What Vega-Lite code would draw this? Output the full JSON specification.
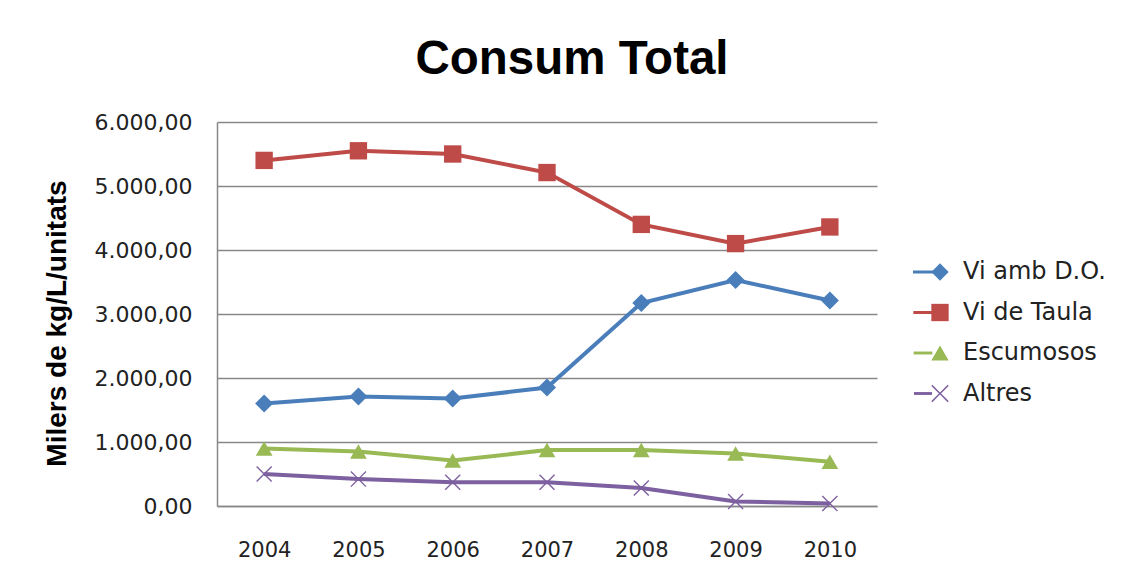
{
  "$schema": "https://vega.github.io/schema/vega-lite/v6.json",
  "width": 660,
  "height": 384,
  "autosize": {"type": "none"},
  "padding": {"left": 217, "top": 122, "right": 250, "bottom": 77},
  "background": "white",
  "config": {
    "locale": {"number": {"decimal": ",", "thousands": ".", "grouping": [3], "currency": ["", " €"]}},
    "view": {"stroke": null},
    "font": "Liberation Sans"
  },
  "title": {
    "text": "Consum Total",
    "font": "Liberation Sans",
    "fontSize": 47.5,
    "fontWeight": "bold",
    "color": "#000000",
    "anchor": "middle",
    "frame": "group",
    "baseline": "alphabetic",
    "offset": -10,
    "dx": 25
  },
  "data": {
    "values": [
      {"year": "2004", "series": "Vi amb D.O.", "value": 1600},
      {"year": "2005", "series": "Vi amb D.O.", "value": 1710},
      {"year": "2006", "series": "Vi amb D.O.", "value": 1680},
      {"year": "2007", "series": "Vi amb D.O.", "value": 1850},
      {"year": "2008", "series": "Vi amb D.O.", "value": 3170},
      {"year": "2009", "series": "Vi amb D.O.", "value": 3530},
      {"year": "2010", "series": "Vi amb D.O.", "value": 3210},
      {"year": "2004", "series": "Vi de Taula", "value": 5400},
      {"year": "2005", "series": "Vi de Taula", "value": 5550},
      {"year": "2006", "series": "Vi de Taula", "value": 5500},
      {"year": "2007", "series": "Vi de Taula", "value": 5210},
      {"year": "2008", "series": "Vi de Taula", "value": 4400},
      {"year": "2009", "series": "Vi de Taula", "value": 4100},
      {"year": "2010", "series": "Vi de Taula", "value": 4360},
      {"year": "2004", "series": "Escumosos", "value": 900},
      {"year": "2005", "series": "Escumosos", "value": 850},
      {"year": "2006", "series": "Escumosos", "value": 710},
      {"year": "2007", "series": "Escumosos", "value": 875},
      {"year": "2008", "series": "Escumosos", "value": 875},
      {"year": "2009", "series": "Escumosos", "value": 820},
      {"year": "2010", "series": "Escumosos", "value": 690},
      {"year": "2004", "series": "Altres", "value": 500},
      {"year": "2005", "series": "Altres", "value": 420},
      {"year": "2006", "series": "Altres", "value": 370},
      {"year": "2007", "series": "Altres", "value": 370},
      {"year": "2008", "series": "Altres", "value": 280},
      {"year": "2009", "series": "Altres", "value": 70},
      {"year": "2010", "series": "Altres", "value": 40}
    ]
  },
  "encoding": {
    "x": {
      "field": "year",
      "type": "ordinal",
      "title": null,
      "axis": {
        "labelAngle": 0,
        "labelFont": "DejaVu Sans",
        "labelFontSize": 21,
        "labelColor": "#222222",
        "labelPadding": 33,
        "ticks": false,
        "domain": true,
        "domainColor": "#888888",
        "domainWidth": 1.5,
        "grid": false
      }
    },
    "y": {
      "field": "value",
      "type": "quantitative",
      "scale": {"domain": [0, 6000], "nice": false},
      "title": "Milers de kg/L/unitats",
      "axis": {
        "values": [0, 1000, 2000, 3000, 4000, 5000, 6000],
        "format": ",.2f",
        "labelFont": "DejaVu Sans",
        "labelFontSize": 22,
        "labelColor": "#222222",
        "labelPadding": 25,
        "ticks": false,
        "domainColor": "#888888",
        "domainWidth": 1.5,
        "grid": true,
        "gridColor": "#888888",
        "gridWidth": 1.5,
        "titleFont": "Liberation Sans",
        "titleFontSize": 28,
        "titleFontWeight": "bold",
        "titleColor": "#000000",
        "titlePadding": 23,
        "titleY": 201
      }
    }
  },
  "layer": [
    {
      "mark": {"type": "line", "strokeWidth": 4},
      "encoding": {
        "stroke": {
          "field": "series",
          "type": "nominal",
          "scale": {
            "domain": ["Vi amb D.O.", "Vi de Taula", "Escumosos", "Altres"],
            "range": ["#4A7EBB", "#BE4B48", "#98B954", "#7D60A0"]
          },
          "legend": {
            "title": null,
            "orient": "none",
            "legendX": 694,
            "legendY": 138,
            "symbolType": "M-1,-0.055H1V0.055H-1Z",
            "symbolSize": 3000,
            "symbolStrokeWidth": 2,
            "labelFont": "DejaVu Sans",
            "labelFontSize": 24,
            "labelExpr": "''",
            "labelOffset": 3,
            "rowPadding": 16.5,
            "zindex": 1
          }
        }
      }
    },
    {
      "mark": {"type": "point", "filled": true, "opacity": 1},
      "encoding": {
        "color": {
          "field": "series",
          "type": "nominal",
          "scale": {
            "domain": ["Vi amb D.O.", "Vi de Taula", "Escumosos", "Altres", "-"],
            "range": ["#4A7EBB", "#BE4B48", "#98B954", "#7D60A0", "#7D60A0"]
          },
          "legend": {
            "title": null,
            "orient": "none",
            "legendX": 711,
            "legendY": 138,
            "values": ["Vi amb D.O.", "Vi de Taula", "Escumosos", "Altres"],
            "symbolSize": 300,
            "labelFont": "DejaVu Sans",
            "labelFontSize": 24,
            "labelColor": "#222222",
            "labelOffset": 11,
            "rowPadding": 16.5,
            "zindex": 2
          }
        },
        "shape": {
          "field": "series",
          "type": "nominal",
          "scale": {
            "domain": ["Vi amb D.O.", "Vi de Taula", "Escumosos", "Altres", "-"],
            "range": ["diamond", "square", "triangle-up", "M0,-0.12L0.88,-1L1,-0.88L0.12,0L1,0.88L0.88,1L0,0.12L-0.88,1L-1,0.88L-0.12,0L-1,-0.88L-0.88,-1Z", "circle"]
          }
        },
        "size": {
          "field": "series",
          "type": "nominal",
          "scale": {
            "domain": ["Vi amb D.O.", "Vi de Taula", "Escumosos", "Altres"],
            "range": [324, 256, 324, 440]
          },
          "legend": null
        }
      }
    }
  ]
}
